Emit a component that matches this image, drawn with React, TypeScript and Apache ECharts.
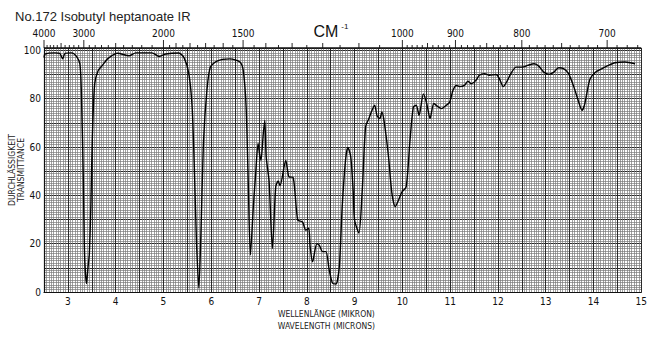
import React, { useEffect, useRef } from "react";
import * as echarts from "echarts";

const titleText = "No.172 Isobutyl heptanoate IR";

const wavelengthUm = [
  2.5, 2.52, 2.73, 2.83, 2.89, 2.94, 3.08, 3.18, 3.25, 3.28, 3.32, 3.35, 3.39, 3.42, 3.44, 3.45,
  3.48, 3.51, 3.56, 3.63, 3.73, 3.83, 4.04, 4.28, 4.42, 4.76, 4.91, 5.05, 5.32, 5.43, 5.53, 5.6,
  5.65, 5.69, 5.74, 5.78, 5.84, 5.91, 5.98, 6.12, 6.39, 6.6, 6.67, 6.73, 6.77, 6.82, 6.88, 6.93,
  6.98, 7.01, 7.04, 7.09, 7.12, 7.15, 7.21, 7.28, 7.35, 7.4, 7.44, 7.56, 7.6, 7.63, 7.71, 7.81,
  7.91, 7.98, 8.04, 8.07, 8.12, 8.21, 8.26, 8.33, 8.4, 8.47, 8.54, 8.61, 8.68, 8.74, 8.81, 8.86,
  8.92, 8.97, 9.0, 9.09, 9.16, 9.23, 9.3, 9.35, 9.42, 9.47, 9.53, 9.57, 9.62, 9.71, 9.78, 9.85,
  9.92, 9.99, 10.08, 10.16, 10.23, 10.29, 10.35, 10.44, 10.51, 10.58, 10.66, 10.75, 10.82, 10.92,
  10.99, 11.06, 11.13, 11.2, 11.3, 11.37, 11.44, 11.54, 11.61, 11.72, 11.82, 11.96, 12.03, 12.11,
  12.2, 12.27, 12.38, 12.51, 12.62, 12.76, 12.86, 12.96, 13.07, 13.17, 13.27, 13.38, 13.48, 13.59,
  13.68, 13.76, 13.81, 13.88, 13.93, 14.04, 14.17, 14.31, 14.45, 14.66, 14.87,
];

const transmittance = [
  97, 98.5, 99, 98.8, 96.5, 98.8, 99, 97.5, 94.5, 84, 50, 15, 3.5, 10, 14, 16,
  35, 63, 86, 91.5, 94, 96.5, 98.8, 97.8, 99, 99, 97.5, 98.5, 98.9, 97, 90.5, 76.6,
  49, 21.5, 1.6, 21.5, 63, 83.5, 93, 95.6, 96.5, 95.2, 91.7, 76.6, 49, 15.3, 35, 49,
  61.5, 57.4, 54.5, 65.7, 71, 56, 46, 18, 43.5, 46, 44, 54.5, 50, 47.6, 47.5, 29.8,
  29, 25.6, 26.4, 18.7, 12.5, 20, 19.4, 16.7, 16.7, 9, 3.6, 3.3, 10.5, 35, 54.5, 59.8,
  56, 42, 29.8, 24.4, 42, 68.3, 71.8, 74.5, 77.3, 73, 71.8, 74.5, 70.4, 56, 41, 35.3,
  38, 41.4, 43.5, 62.8, 76.6, 77.3, 73.1, 82, 78, 71.8, 78, 76.6, 75.9, 77.3,
  78.6, 83.5, 85.5, 85, 85.5, 87.3, 86.2, 87.6, 89.7, 90.4, 89.7, 90, 88.3, 85,
  87.6, 90.4, 93.1, 93.1, 93.8, 94.5, 93.4, 91, 90.1, 91, 92.8, 92.4, 90.4, 84.8,
  79.3, 75.2, 77.3, 84.2, 88.3, 91, 92.4, 93.8, 94.9, 95.2, 94.5,
];

const xTickLabels = [3, 4, 5, 6, 7, 8, 9, 10, 11, 12, 13, 14, 15];
const yTickLabels = [0, 20, 40, 60, 80, 100];
const wavenumberLabels = [4000, 3000, 2000, 1500, 1000, 900, 800, 700];
const wavenumberMajorTicks = [4000, 3000, 2000, 1500, 1000, 900, 800, 700];
const wavenumberMidTicks = [3500, 2500, 1900, 1800, 1700, 1600, 1400, 1300, 1200, 1100, 950, 850, 750, 650];

const narrow = "'Liberation Sans Narrow', 'DejaVu Sans Condensed', 'Liberation Sans', Arial, sans-serif";
const sans = "'Liberation Sans', Arial, sans-serif";

export default function App() {
  const ref = useRef<HTMLDivElement>(null);
  useEffect(() => {
    if (!ref.current) return;
    const chart = echarts.init(ref.current, null, { renderer: "svg" });
    const data = wavelengthUm.map((w, i) => [w, transmittance[i]]);
    chart.setOption({
      animation: false,
      backgroundColor: "#ffffff",
      grid: { left: 44, right: 4, top: 48, bottom: 45, containLabel: false },
      xAxis: {
        type: "value",
        min: 2.5,
        max: 15,
        interval: 0.5,
        axisLine: { show: true, lineStyle: { color: "#111", width: 1.2 } },
        axisTick: { show: false },
        minorTick: { show: false, splitNumber: 10 },
        splitLine: { show: true, lineStyle: { color: "#2a2a2a", width: 1 } },
        minorSplitLine: { show: true, lineStyle: { color: "#7a7a7a", width: 0.7 } },
        axisLabel: {
          margin: 4,
          color: "#111",
          fontSize: 10,
          fontFamily: narrow,
          formatter: (v: number) => (xTickLabels.includes(v) ? String(v) : ""),
          showMinLabel: true,
          showMaxLabel: true,
        },
      },
      yAxis: {
        type: "value",
        min: 0,
        max: 101,
        interval: 10,
        axisLine: { show: true, lineStyle: { color: "#111", width: 1.2 } },
        axisTick: { show: false },
        splitLine: { show: true, lineStyle: { color: "#2a2a2a", width: 1 } },
        minorSplitLine: { show: true, lineStyle: { color: "#7a7a7a", width: 0.7 } },
        minorTick: { show: false, splitNumber: 10 },
        axisLabel: {
          margin: 3,
          color: "#111",
          fontSize: 10,
          fontFamily: narrow,
          formatter: (v: number) => (yTickLabels.includes(v) ? String(v) : ""),
        },
      },
      series: [
        {
          type: "line",
          data,
          showSymbol: false,
          smooth: 0.25,
          lineStyle: { color: "#000", width: 1.4 },
        },
      ],
    });

    const toX = (um: number) => chart.convertToPixel({ xAxisIndex: 0 }, um) as number;
    const toY = (t: number) => chart.convertToPixel({ yAxisIndex: 0 }, t) as number;
    const topY = toY(101);
    const bottomY = toY(0);
    const leftX = toX(2.5);
    const rightX = toX(15);
    const graphics: any[] = [];
    graphics.push({
      type: "text",
      left: 15,
      top: 10,
      style: { text: titleText, fontSize: 13, fontFamily: sans, fill: "#222" },
    });
    graphics.push({
      type: "line",
      shape: { x1: leftX, y1: topY, x2: rightX, y2: topY },
      style: { stroke: "#111", lineWidth: 1.6 },
    });
    const minorTicks: number[] = [];
    for (let wn = 4000; wn > 2000; wn -= 100) minorTicks.push(wn);
    for (let wn = 2000; wn > 1000; wn -= 50) minorTicks.push(wn);
    for (let wn = 1000; wn >= 670; wn -= 10) minorTicks.push(wn);
    minorTicks.forEach((wn) => {
      const x = toX(10000 / wn);
      let len = 3;
      if (wavenumberMidTicks.includes(wn)) len = 5;
      if (wavenumberMajorTicks.includes(wn)) len = 8;
      graphics.push({
        type: "line",
        shape: { x1: x, y1: topY, x2: x, y2: topY - len },
        style: { stroke: "#111", lineWidth: 0.9 },
      });
    });
    wavenumberLabels.forEach((wn) => {
      graphics.push({
        type: "text",
        x: toX(10000 / wn),
        y: topY - 15,
        style: {
          text: String(wn),
          fontSize: 10,
          fontFamily: narrow,
          fill: "#111",
          textAlign: "center",
          textVerticalAlign: "middle",
        },
      });
    });
    const cmX = toX(8.4);
    graphics.push({
      type: "text",
      x: cmX,
      y: topY - 17,
      style: { text: "CM", fontSize: 16, fontFamily: sans, fill: "#111", textAlign: "center", textVerticalAlign: "middle" },
    });
    graphics.push({
      type: "text",
      x: cmX + 19,
      y: topY - 22,
      style: { text: "-1", fontSize: 8, fontFamily: sans, fill: "#111", textAlign: "center", textVerticalAlign: "middle" },
    });
    const midY = 170;
    graphics.push({
      type: "text",
      x: 12,
      y: midY,
      rotation: Math.PI / 2,
      style: { text: "DURCHLÄSSIGKEIT", fontSize: 8.5, fontFamily: narrow, fill: "#222", textAlign: "center", textVerticalAlign: "middle" },
    });
    graphics.push({
      type: "text",
      x: 21,
      y: midY,
      rotation: Math.PI / 2,
      style: { text: "TRANSMITTANCE", fontSize: 8.5, fontFamily: narrow, fill: "#222", textAlign: "center", textVerticalAlign: "middle" },
    });
    const cx = toX(8.41);
    graphics.push({
      type: "text",
      x: cx,
      y: bottomY + 22,
      style: { text: "WELLENLÄNGE (MIKRON)", fontSize: 8.5, fontFamily: narrow, fill: "#222", textAlign: "center", textVerticalAlign: "middle" },
    });
    graphics.push({
      type: "text",
      x: cx,
      y: bottomY + 34,
      style: { text: "WAVELENGTH (MICRONS)", fontSize: 8.5, fontFamily: narrow, fill: "#222", textAlign: "center", textVerticalAlign: "middle" },
    });
    chart.setOption({ graphic: graphics });
    return () => chart.dispose();
  }, []);
  return <div ref={ref} style={{ width: 650, height: 337, position: "absolute", left: 0, top: 0 }} />;
}
